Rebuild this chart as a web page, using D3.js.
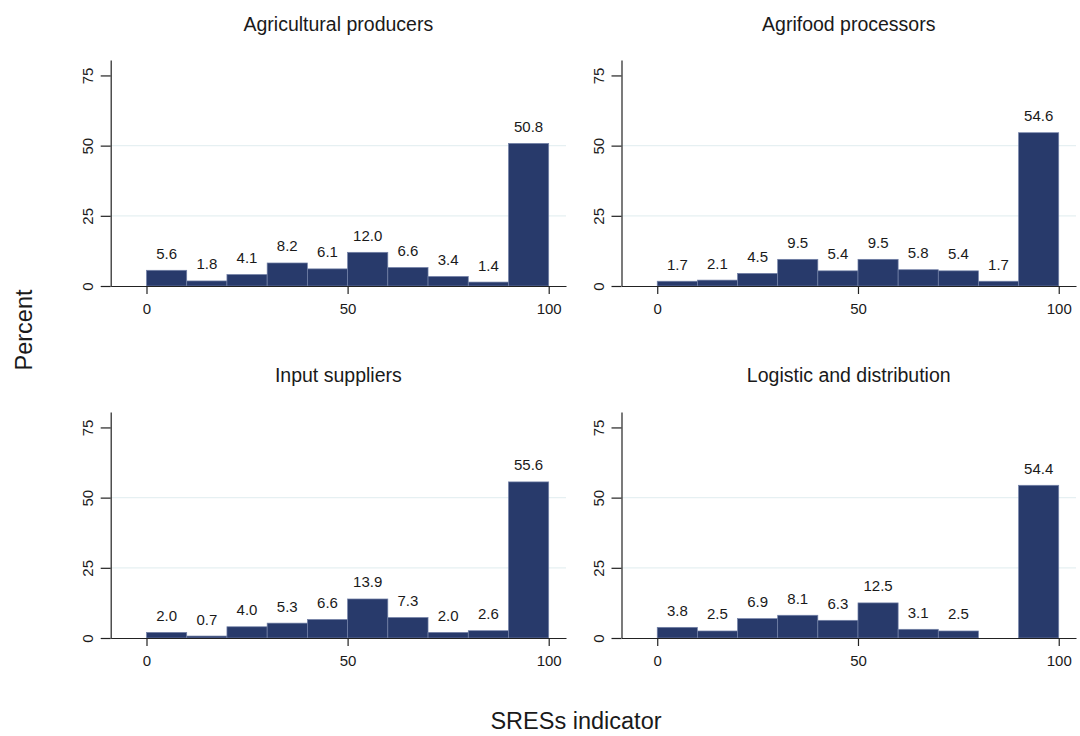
<!DOCTYPE html>
<html>
<head>
<meta charset="utf-8">
<script src="https://cdn.jsdelivr.net/npm/d3@7"></script>
<style>
  html, body { margin: 0; padding: 0; background: #fff; }
  svg { display: block; font-family: "Liberation Sans", Arial, Helvetica, sans-serif; }
</style>
</head>
<body>
<svg id="chart" width="1080" height="736"></svg>
<script>
// ---- data ----
const binStarts = [0, 10, 20, 30, 40, 50, 60, 70, 80, 90];
const binWidth = 10;
const panelTitles = ["Agricultural producers", "Agrifood processors", "Input suppliers", "Logistic and distribution"];
const agriculturalProducers = [5.6, 1.8, 4.1, 8.2, 6.1, 12.0, 6.6, 3.4, 1.4, 50.8];
const agrifoodProcessors   = [1.7, 2.1, 4.5, 9.5, 5.4, 9.5, 5.8, 5.4, 1.7, 54.6];
const inputSuppliers       = [2.0, 0.7, 4.0, 5.3, 6.6, 13.9, 7.3, 2.0, 2.6, 55.6];
const logisticDistribution = [3.8, 2.5, 6.9, 8.1, 6.3, 12.5, 3.1, 2.5, 0, 54.4];
const xTicks = [0, 50, 100];
const yTicks = [0, 25, 50, 75];
const gridTicks = [25, 50];
const xAxisTitle = "SRESs indicator";
const yAxisTitle = "Percent";

const seriesList = [agriculturalProducers, agrifoodProcessors, inputSuppliers, logisticDistribution];

// ---- layout ----
const svg = d3.select("#chart");
const colLeft = [110.7, 621.5];
const colRight = [566, 1076];
const rowBottom = [286, 638];
const rowTop = [60, 412];
const barColor = "#283a6b";
const textColor = "#1a1a1a";

seriesList.forEach((vals, i) => {
  const col = i % 2, row = Math.floor(i / 2);
  const x = d3.scaleLinear().domain([-8.9, 104.3]).range([colLeft[col], colRight[col]]);
  const y = d3.scaleLinear().domain([0, 80.5]).range([rowBottom[row], rowTop[row]]);
  const g = svg.append("g");

  // gridlines
  g.selectAll(".grid").data(gridTicks).join("line")
    .attr("x1", colLeft[col]).attr("x2", colRight[col])
    .attr("y1", d => y(d)).attr("y2", d => y(d))
    .attr("stroke", "#e6f0f2").attr("stroke-width", 1.2);

  // bars
  const data = binStarts.map((b, k) => ({ b, v: vals[k] }));
  g.selectAll(".bar").data(data.filter(d => d.v > 0)).join("rect")
    .attr("x", d => x(d.b))
    .attr("width", d => x(d.b + binWidth) - x(d.b))
    .attr("y", d => y(d.v))
    .attr("height", d => y(0) - y(d.v))
    .attr("fill", barColor)
    .attr("stroke", "#7482a8").attr("stroke-width", 0.7);

  // value labels
  g.selectAll(".lbl").data(data.filter(d => d.v > 0)).join("text")
    .attr("x", d => x(d.b + binWidth / 2))
    .attr("y", d => y(d.v) - 11.5)
    .attr("text-anchor", "middle")
    .attr("font-size", 15)
    .attr("fill", textColor)
    .text(d => d.v.toFixed(1));

  // x axis
  const xa = g.append("g")
    .attr("transform", `translate(0,${rowBottom[row]})`)
    .call(d3.axisBottom(x).tickValues(xTicks).tickSize(8).tickSizeOuter(0).tickPadding(6));
  xa.select(".domain").attr("stroke", "#222").attr("stroke-width", 1.2);
  xa.selectAll(".tick line").attr("stroke", "#222").attr("stroke-width", 1.2);
  xa.selectAll(".tick text").attr("font-size", 15).attr("fill", textColor)
    .attr("font-family", "Liberation Sans, Arial, sans-serif")
    .attr("dy", "0.95em");

  // y axis
  const ya = g.append("g")
    .attr("transform", `translate(${colLeft[col]},0)`)
    .call(d3.axisLeft(y).tickValues(yTicks).tickSize(10).tickSizeOuter(0));
  ya.select(".domain").attr("stroke", "#222").attr("stroke-width", 1.2);
  ya.selectAll(".tick line").attr("stroke", "#222").attr("stroke-width", 1.2);
  ya.selectAll(".tick text")
    .attr("font-size", 15).attr("fill", textColor)
    .attr("font-family", "Liberation Sans, Arial, sans-serif")
    .attr("text-anchor", "middle")
    .attr("transform", "rotate(-90)")
    .attr("x", 0).attr("y", -17.5).attr("dy", 0);

  // panel title
  g.append("text")
    .attr("x", (colLeft[col] + colRight[col]) / 2)
    .attr("y", row === 0 ? 31 : 382)
    .attr("text-anchor", "middle")
    .attr("font-size", 19.5)
    .attr("fill", textColor)
    .text(panelTitles[i]);
});

// overall axis titles
svg.append("text")
  .attr("x", 576).attr("y", 729)
  .attr("text-anchor", "middle")
  .attr("font-size", 23.5)
  .attr("fill", textColor)
  .text(xAxisTitle);

svg.append("text")
  .attr("transform", "translate(31.5,330) rotate(-90)")
  .attr("text-anchor", "middle")
  .attr("font-size", 23.5)
  .attr("fill", textColor)
  .text(yAxisTitle);
</script>
</body>
</html>
